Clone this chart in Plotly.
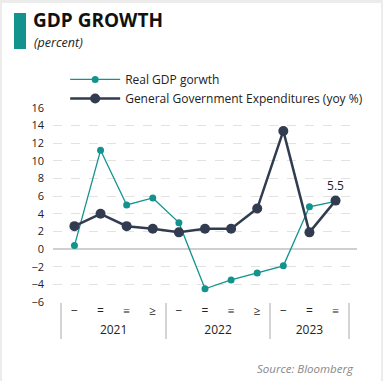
import plotly.graph_objects as go

years = ["2021"] * 4 + ["2022"] * 4 + ["2023"] * 3
quarters = ["−", "=", "≡", "≥", "−", "=", "≡", "≥", "−", "=", "≡"]
real_gdp = [0.4, 11.2, 5.0, 5.8, 3.0, -4.5, -3.5, -2.7, -1.9, 4.8, 5.4]
gov_exp = [2.6, 4.0, 2.6, 2.3, 1.9, 2.3, 2.3, 4.6, 13.4, 1.9, 5.5]
last_label = ["", "", "", "", "", "", "", "", "", "", "5.5"]

TEAL = "#13938e"
DARK = "#323c50"
FONT = "Open Sans"

fig = go.Figure()
fig.add_trace(go.Scatter(
    x=[years, quarters], y=real_gdp, name="Real GDP gorwth",
    mode="lines+markers", line=dict(color=TEAL, width=1.3),
    marker=dict(color=TEAL, size=7),
))
fig.add_trace(go.Scatter(
    x=[years, quarters], y=gov_exp, name="General Government Expenditures (yoy %)",
    mode="lines+markers+text", text=last_label, textposition="top center",
    textfont=dict(size=12, color="#222222", family=FONT),
    line=dict(color=DARK, width=2.5),
    marker=dict(color=DARK, size=10),
))

fig.update_layout(
    width=383, height=381,
    margin=dict(l=53, r=26, t=108, b=79, autoexpand=False),
    paper_bgcolor="#ececec", plot_bgcolor="white",
    font=dict(family=FONT, size=11, color="#222222"),
    showlegend=True,
    legend=dict(x=0.04, y=1.222, xanchor="left", yanchor="top",
                bgcolor="rgba(0,0,0,0)", font=dict(size=12, color="#222222"),
                tracegroupgap=0, itemwidth=50),
    xaxis=dict(type="multicategory", showgrid=False, showline=False, zeroline=False,
               showdividers=True, dividercolor="#d4d4d4", dividerwidth=2,
               tickfont=dict(size=12, color="#222222"), ticks="", automargin=False),
    yaxis=dict(range=[-6, 16], dtick=2, showgrid=True, gridcolor="#e2e2e2",
               griddash="dash", gridwidth=1, zeroline=True, zerolinecolor="#d0d0d0",
               zerolinewidth=2, showline=False, tickfont=dict(size=11, color="#222222"),
               ticks="", ticklabelstandoff=8, automargin=False),
    shapes=[
        dict(type="rect", xref="paper", yref="paper", x0=(2 - 53) / 304, x1=(381 - 53) / 304,
             y0=(302 - 382) / 194, y1=(302 - 3) / 194, fillcolor="white", line=dict(width=0),
             layer="below"),
        dict(type="rect", xref="paper", yref="paper", x0=(14 - 53) / 304, x1=(26 - 53) / 304,
             y0=(302 - 49) / 194, y1=(302 - 13) / 194, fillcolor=TEAL, line=dict(width=0)),
    ],
    annotations=[
        dict(text="<b>GDP GROWTH</b>", xref="paper", yref="paper",
             x=(31 - 53) / 304, y=(302 - 20) / 194, xanchor="left", yanchor="middle",
             showarrow=False, font=dict(size=19, color="#111111", family=FONT)),
        dict(text="<i>(percent)</i>", xref="paper", yref="paper",
             x=(32 - 53) / 304, y=(302 - 42) / 194, xanchor="left", yanchor="middle",
             showarrow=False, font=dict(size=12.5, color="#222222", family=FONT)),
        dict(text="<i>Source: Bloomberg</i>", xref="paper", yref="paper",
             x=(356 - 53) / 304, y=(302 - 368) / 194, xanchor="right", yanchor="middle",
             showarrow=False, font=dict(size=11.5, color="#888888", family=FONT)),
    ],
)

fig.write_html("out.html", config={"displayModeBar": False},
               post_script="document.body.style.margin='0';document.body.style.overflow='hidden';")
